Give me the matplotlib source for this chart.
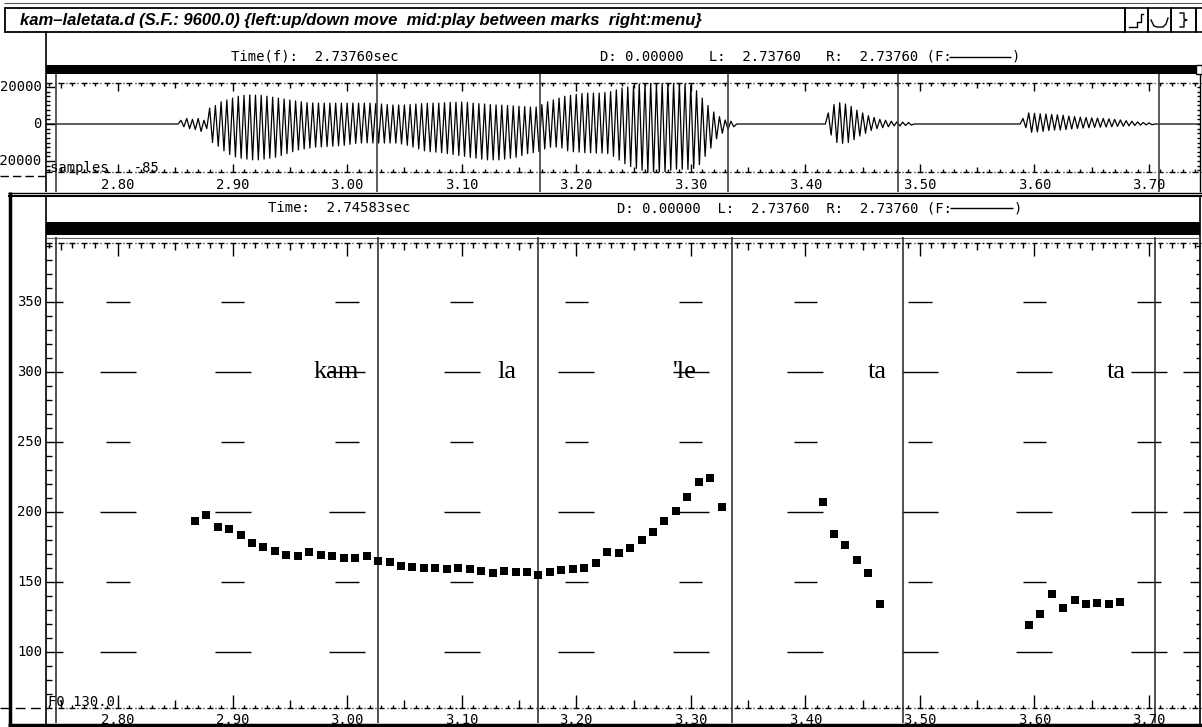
import numpy as np
import matplotlib
matplotlib.use("Agg")
import matplotlib.pyplot as plt
from matplotlib.patches import Rectangle

W, H = 1202, 727
MONO = "DejaVu Sans Mono"
SERIF = "Liberation Serif"

# ---------------- data ----------------
# F0 track (Hz), one value per 10 ms analysis frame
f0_time_1 = [2.867, 2.877, 2.887, 2.897, 2.907, 2.917, 2.927, 2.937, 2.947, 2.957,
             2.967, 2.977, 2.987, 2.997, 3.007, 3.017, 3.027, 3.037, 3.047, 3.057,
             3.067, 3.077, 3.087, 3.097, 3.107, 3.117, 3.127, 3.137, 3.147, 3.157,
             3.167, 3.177, 3.187, 3.197, 3.207, 3.217, 3.227, 3.237, 3.247, 3.257,
             3.267, 3.277, 3.287, 3.297, 3.307, 3.317, 3.327]
f0_hz_1 = [193.8, 198.1, 189.1, 187.6, 183.4, 178.1, 175.2, 172.1, 169.1, 168.4,
           171.4, 169.1, 168.4, 167.4, 167.4, 168.4, 165.0, 164.3, 161.6, 160.7,
           159.8, 159.8, 159.1, 160.0, 159.1, 157.9, 156.6, 157.9, 156.9, 156.9,
           155.0, 156.9, 158.6, 159.1, 159.9, 163.4, 171.2, 170.5, 174.3, 179.8,
           185.9, 193.6, 200.5, 210.9, 221.4, 224.1, 203.4]
f0_time_2 = [3.415, 3.425, 3.435, 3.445, 3.455, 3.465]
f0_hz_2 = [207.4, 184.3, 176.2, 165.7, 156.6, 134.5]
f0_time_3 = [3.595, 3.605, 3.615, 3.625, 3.635, 3.645, 3.655, 3.665, 3.675]
f0_hz_3 = [119.1, 127.0, 141.4, 131.2, 137.1, 134.3, 135.2, 134.3, 135.7]

# waveform peak envelope (samples), 5 ms steps, per voiced stretch
wave_start_1 = 2.855
wave_hi_1 = [2000, 3000, 2500, 3000, 2000, 8600, 10000, 12000, 13000, 14000,
             15000, 15500, 15700, 15600, 15500, 15000, 14500, 14000, 13500, 13000,
             12500, 12000, 11500, 11400, 11300, 11300, 11300, 11300, 11300, 11300,
             11300, 11300, 11300, 11300, 11000, 10800, 10500, 10300, 10300, 10300,
             10500, 10800, 11000, 11200, 11300, 11300, 11500, 11700, 11800, 11900,
             11700, 11300, 11000, 10800, 10500, 10300, 10200, 10000, 9800, 9600,
             9400, 9200, 9200, 10500, 12000, 13000, 14000, 15000, 15500, 16000,
             16500, 16700, 16700, 16700, 17000, 17500, 18500, 19500, 20000, 20500,
             21500, 22000, 22100, 22100, 22100, 22100, 22100, 22100, 22000, 21000,
             18000, 14000, 10000, 6500, 4000, 2200, 1500]
wave_lo_1 = [-1500, -2500, -3000, -4000, -2500, -10000, -12000, -14500, -16500, -17800,
             -18500, -19000, -19400, -19400, -19000, -18500, -18000, -17000, -16000, -15000,
             -14000, -13500, -13000, -12500, -12400, -12200, -12000, -11800, -11500, -11000,
             -10500, -10300, -10200, -10260, -10300, -10300, -10300, -10300, -10800, -11500,
             -12500, -13500, -14500, -15000, -15200, -15500, -16000, -16500, -17000, -17500,
             -18000, -18500, -19000, -19400, -19400, -19400, -19000, -18500, -18000, -17000,
             -16000, -15500, -15000, -13500, -12500, -12500, -13000, -14500, -15000, -15200,
             -15500, -15600, -15700, -15700, -16000, -17500, -19500, -21500, -23000, -24000,
             -25000, -26000, -26400, -26400, -26000, -25000, -24500, -24500, -24500, -24000,
             -22000, -17500, -13000, -8000, -5000, -3000, -1500]
wave_start_2 = 3.420
wave_hi_2 = [6000, 10500, 11500, 10800, 9500, 7500, 6000, 4500, 3500, 2500,
             2000, 1500, 1200, 1000, 800]
wave_lo_2 = [-6000, -10000, -10500, -10000, -8500, -6500, -5000, -3500, -2500, -2000,
             -1500, -1000, -1000, -800, -600]
wave_start_3 = 3.590
wave_hi_3 = [3000, 6000, 5800, 5500, 5400, 5200, 5000, 4700, 4300, 4000,
             3700, 3500, 3300, 3200, 3000, 2800, 2500, 2200, 1800, 1500,
             1100, 800, 600]
wave_lo_3 = [-2000, -4500, -4300, -4000, -3500, -3300, -3300, -3000, -2700, -2400,
             -2200, -2000, -1800, -1700, -1600, -1500, -1300, -1200, -1000, -800,
             -600, -500, -400]

# segment boundary marks (s) and syllable labels
wave_marks = [3.0261, 3.1684, 3.3325, 3.4809, 3.7087]
f0_marks = [3.0270, 3.1664, 3.3360, 3.4853, 3.7052]
syllables = ["kam", "la", "'le", "ta", "ta"]
syllable_time = [2.9903, 3.1396, 3.2949, 3.4625, 3.6711]

time_labels = ["2.80", "2.90", "3.00", "3.10", "3.20", "3.30", "3.40", "3.50", "3.60", "3.70"]
hz_labels = [350, 300, 250, 200, 150, 100]
wave_labels = [20000, 0, -20000]
cursor_time = 2.74583

# ---------------- figure ----------------
T0, T1 = 2.73715, 3.74448
fig = plt.figure(figsize=(W / 100, H / 100), dpi=100)
fig.patch.set_facecolor("white")


def rect(x0, y0, x1, y1):
    return [x0 / W, 1 - y1 / H, (x1 - x0) / W, (y1 - y0) / H]


ov = fig.add_axes([0, 0, 1, 1], zorder=0)
ov.set_xlim(0, W)
ov.set_ylim(H, 0)
ov.axis("off")

K = "black"


def seg(x0, y0, x1, y1, lw=1.0, color=K, **kw):
    ov.plot([x0, x1], [y0, y1], color=color, lw=lw, solid_capstyle="butt", **kw)


# window title bar
seg(4, 2.5, 1202, 2.5, lw=0.8, color="0.35")
ov.add_patch(Rectangle((5, 8), 1120, 24, fill=False, ec=K, lw=1.3))
ov.text(20, 20.5, "kam\u2013laletata.d (S.F.: 9600.0) {left:up/down move  mid:play between marks  right:menu}",
        family="Liberation Sans", style="italic", fontweight="bold", fontsize=12,
        va="center", ha="left")
for bx0, bx1 in [(1125, 1148), (1148, 1171), (1171, 1196), (1196, 1206)]:
    ov.add_patch(Rectangle((bx0, 8), bx1 - bx0, 24, fill=False, ec=K, lw=1.2))
ov.plot([1129, 1137, 1137, 1141, 1141, 1143], [27, 27, 22, 22, 14, 14], color=K, lw=1)
ov.plot([1151, 1154, 1157, 1163, 1166, 1168], [20, 26, 27, 27, 24, 18], color=K, lw=1)
ov.plot([1180, 1184, 1184, 1187, 1184, 1184, 1180], [13, 13, 19, 20, 21, 27, 27], color=K, lw=1)

# waveform header
seg(46, 32, 46, 192, lw=1.2)
ov.text(231, 57, "Time(f):  2.73760sec", family=MONO, fontsize=10, va="center")
ov.text(600, 57, "D: 0.00000   L:  2.73760   R:  2.73760 (F:", family=MONO, fontsize=10, va="center")
seg(949, 57, 1011, 57, lw=1)
ov.text(1012, 57, ")", family=MONO, fontsize=10, va="center")
ov.add_patch(Rectangle((46, 65), 1150, 9, color=K, lw=0))
ov.add_patch(Rectangle((1196, 65), 6, 9, fill=False, ec=K, lw=1))
seg(1199.5, 74, 1199.5, 192, lw=1)
ov.plot([0, 46], [176, 176], color=K, lw=1, ls=(0, (6, 3)))

# pitch panel frame and header
seg(8, 192.5, 1202, 192.5, lw=1)
seg(8, 195.5, 1202, 195.5, lw=1.5)
seg(9.5, 192, 9.5, 725, lw=2.5)
seg(8, 724.5, 1202, 724.5, lw=2.5)
seg(1199.5, 195, 1199.5, 725, lw=1.2)
seg(46, 196, 46, 724, lw=1.2)
ov.text(268, 208, "Time:  2.74583sec", family=MONO, fontsize=10, va="center")
ov.text(617, 208, "D: 0.00000  L:  2.73760  R:  2.73760 (F:", family=MONO, fontsize=10, va="center")
seg(950, 208, 1013, 208, lw=1)
ov.text(1014, 208, ")", family=MONO, fontsize=10, va="center")
ov.add_patch(Rectangle((46, 222), 1154, 13, color=K, lw=0))
seg(46, 237.5, 1200, 237.5, lw=0.8, color="0.4")
ov.plot([0, 46], [708, 708], color=K, lw=1, ls=(0, (7, 4)))


def time_ruler(ax, hpx, yfrac, sign, lens):
    trans = ax.get_xaxis_transform()
    ticks = np.round(np.arange(2.74, 3.7451, 0.01), 2)
    for t in ticks:
        k = int(round(t * 100))
        L = lens[2] if k % 10 == 0 else (lens[1] if k % 5 == 0 else lens[0])
        ax.vlines(t, yfrac, yfrac + sign * L / hpx, transform=trans, color=K, lw=1, clip_on=False)
        ax.hlines(yfrac, t - 0.0026, t + 0.0026, transform=trans, color=K, lw=1, clip_on=False)
        ax.hlines(yfrac, t + 0.0046, t + 0.0055, transform=trans, color=K, lw=1, clip_on=False)


# ---------------- waveform panel ----------------
WTOP, WBOT = 83, 172
WH = WBOT - WTOP
axw = fig.add_axes(rect(46, WTOP, 1200, WBOT), zorder=2)
axw.set_facecolor("none")
axw.set_xlim(T0, T1)
axw.set_ylim(-25944, 22160)
axw.axis("off")

xs, ys = [T0], [0]
for start, hi, lo in [(wave_start_1, wave_hi_1, wave_lo_1),
                      (wave_start_2, wave_hi_2, wave_lo_2),
                      (wave_start_3, wave_hi_3, wave_lo_3)]:
    xs.append(start - 0.0025)
    ys.append(0)
    for i, (h, l) in enumerate(zip(hi, lo)):
        t = start + 0.005 * i
        xs += [t, t + 0.0025]
        ys += [h, l]
    xs.append(start + 0.005 * len(hi))
    ys.append(0)
xs.append(T1)
ys.append(0)
axw.plot(xs, ys, color=K, lw=0.9)

time_ruler(axw, WH, 1.0, -1, (3, 5, 8))
time_ruler(axw, WH, 0.0, 1, (3, 5, 8))
ytr = axw.get_yaxis_transform()
for v in np.arange(-25000, 22001, 2500):
    L = 9 if v in wave_labels else 4
    axw.hlines(v, 0, L / 1154, transform=ytr, color=K, lw=1, clip_on=False)
    axw.hlines(v, 1, 1 - 3 / 1154, transform=ytr, color=K, lw=1, clip_on=False)
for v in wave_labels:
    axw.text(-4 / 1154, v, str(v), transform=ytr, ha="right", va="center",
             family=MONO, fontsize=10, clip_on=False)
axw.text(4 / 1154, 4 / WH, "samples   -85", transform=axw.transAxes, ha="left", va="center",
         family=MONO, fontsize=10)
xtr = axw.get_xaxis_transform()
for lab in time_labels:
    axw.text(float(lab), -13 / WH, lab, transform=xtr, ha="center", va="center",
             family=MONO, fontsize=10, clip_on=False)
for t in wave_marks + [cursor_time]:
    axw.vlines(t, 1 + 9 / WH, -20 / WH, transform=xtr, color="0.25", lw=1.2, clip_on=False)

# ---------------- F0 panel ----------------
FTOP, FBOT = 243, 708
FH = FBOT - FTOP
axf = fig.add_axes(rect(46, FTOP, 1200, FBOT), zorder=2)
axf.set_facecolor("none")
axf.set_xlim(T0, T1)
axf.set_ylim(60, 60 + FH / 1.4)
axf.axis("off")

# reference dashes at the labelled frequencies
centres = [float(s) for s in time_labels]
for hz in hz_labels:
    hw = 0.0157 if hz % 100 == 0 else 0.0102
    for c in centres:
        axf.hlines(hz, c - hw, c + hw, color=K, lw=1)

ftr = axf.get_xaxis_transform()
for t in f0_marks + [cursor_time]:
    axf.vlines(t, 1 + 6 / FH, -15 / FH, transform=ftr, color="0.2", lw=1.2, clip_on=False)

time_ruler(axf, FH, 1.0, -1, (5, 7, 13))
time_ruler(axf, FH, 0.0, 1, (3, 8, 13))
fyt = axf.get_yaxis_transform()
for hz in range(70, 391, 10):
    if hz in hz_labels:
        Ll, Lr = 17, (17 if hz % 100 == 0 else 10)
    else:
        Ll, Lr = 6, 4
    axf.hlines(hz, 0, Ll / 1154, transform=fyt, color=K, lw=1, clip_on=False)
    axf.hlines(hz, 1, 1 - Lr / 1154, transform=fyt, color=K, lw=1, clip_on=False)
for hz in hz_labels:
    axf.text(-4 / 1154, hz, str(hz), transform=fyt, ha="right", va="center",
             family=MONO, fontsize=10, clip_on=False)
for lab in time_labels:
    axf.text(float(lab), -12 / FH, lab, transform=ftr, ha="center", va="center",
             family=MONO, fontsize=10, clip_on=False)
axf.text(2 / 1154, 6 / FH, "F0 130.0", transform=axf.transAxes, ha="left", va="center",
         family=MONO, fontsize=10)

for name, t in zip(syllables, syllable_time):
    axf.text(t, 295.5, name, ha="center", va="baseline", family=SERIF, fontsize=19)

for tt, hh in [(f0_time_1, f0_hz_1), (f0_time_2, f0_hz_2), (f0_time_3, f0_hz_3)]:
    axf.plot(tt, hh, ls="none", marker="s", ms=5.2, mfc=K, mec=K, mew=0)

fig.savefig("out.png", dpi=100, facecolor="white")
